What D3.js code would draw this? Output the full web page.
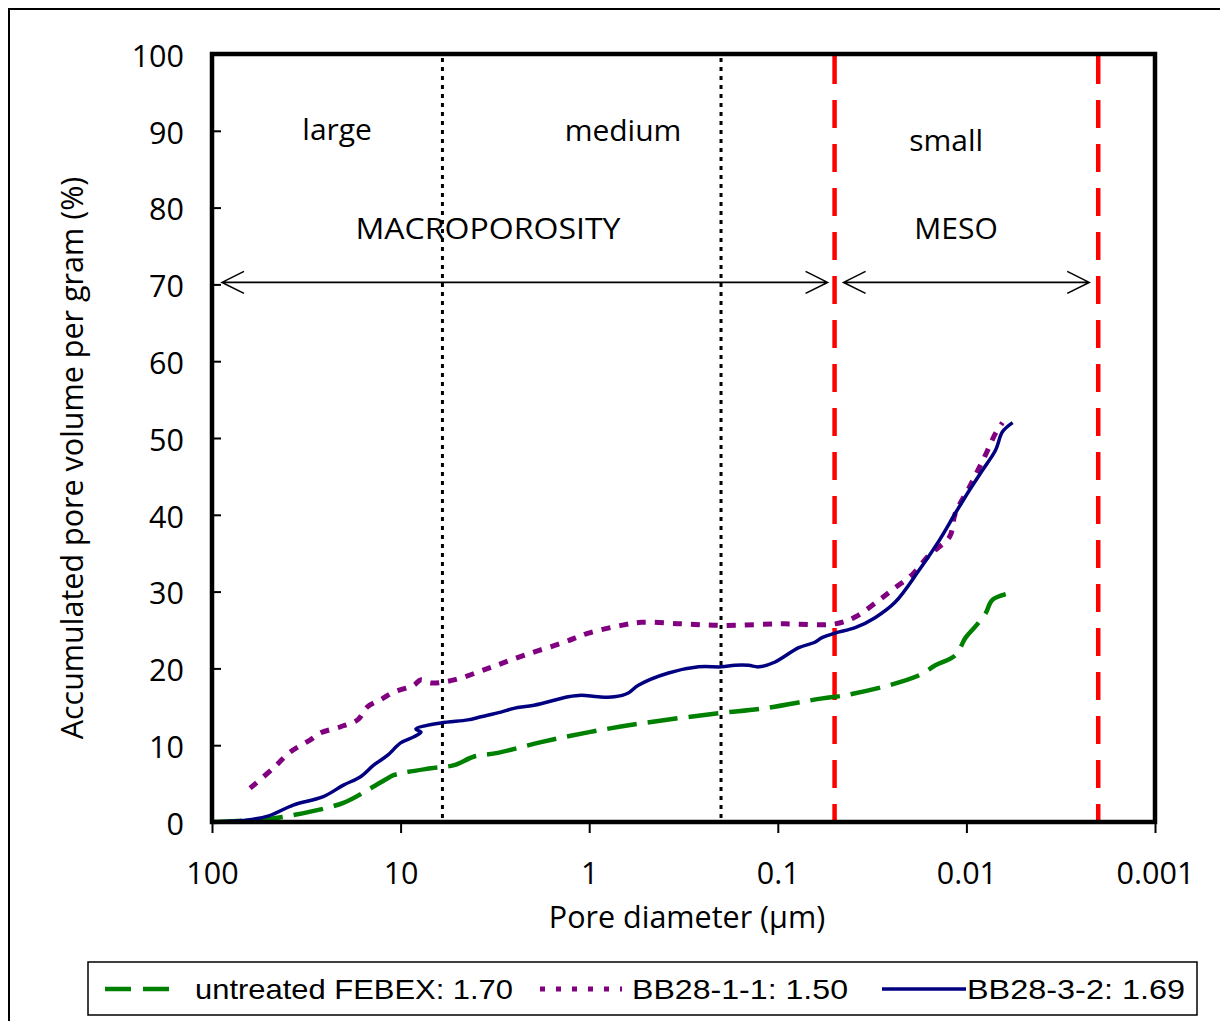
<!DOCTYPE html>
<html>
<head>
<meta charset="utf-8">
<script src="https://cdn.jsdelivr.net/npm/d3@7"></script>
<style>
  body { margin: 0; background: #fff; }
  text { font-family: "Open Sans", "Noto Sans", sans-serif; fill: #000; }
</style>
</head>
<body>
<svg id="chart" width="1220" height="1021"></svg>
<script>
// tick labels
const xTicks = [100, 10, 1, 0.1, 0.01, 0.001];
const xTickLabels = ['100', '10', '1', '0.1', '0.01', '0.001'];
const yTicks = [0, 10, 20, 30, 40, 50, 60, 70, 80, 90, 100];

// pore size limits (µm)
const dottedLimits = [6, 0.2];
const redLimits = [0.05, 0.002];

// series: pore diameter (µm) and accumulated volume (%)
const febexD = [100, 55.6, 37, 20.1, 14.4, 11.7, 10.9, 6.9, 5.2, 4.1, 3.05, 1.8, 1.0, 0.51, 0.2, 0.126, 0.058, 0.044, 0.0257, 0.0178, 0.0146, 0.01145, 0.0101, 0.009, 0.0079, 0.0073, 0.0059];
const febexV = [0, 0.3, 0.9, 2.5, 4.4, 5.7, 6.1, 7.0, 7.4, 8.5, 9.0, 10.4, 11.7, 12.9, 14.2, 14.7, 16.1, 16.5, 17.8, 19.1, 20.4, 21.7, 24.0, 25.4, 27.2, 28.9, 29.8];

const bb11D = [62.8, 47.4, 38.5, 30.1, 26.6, 20.8, 16.9, 15.0, 12.8, 10.9, 8.53, 7.83, 6.92, 5.22, 3.44, 2.22, 1.36, 1.01, 0.676, 0.529, 0.324, 0.199, 0.0952, 0.0497, 0.0389, 0.029, 0.0239, 0.0194, 0.0157, 0.0123, 0.01145, 0.00964, 0.00853, 0.00792, 0.00701, 0.00644];
const bb11V = [4.4, 7.0, 9.1, 10.7, 11.6, 12.4, 13.3, 15.0, 15.9, 16.9, 17.8, 18.5, 18.1, 18.5, 20.0, 21.7, 23.4, 24.6, 25.6, 26.0, 25.8, 25.6, 25.8, 25.8, 26.7, 28.9, 30.5, 32.2, 34.8, 37.1, 40.2, 43.6, 46.2, 47.8, 50.6, 52.0];

const bb32D = [100, 62.8, 50, 37.1, 25.7, 20.1, 16.3, 13.9, 11.7, 10, 8.5, 7.8, 8.3, 6.13, 4.4, 3.75, 2.94, 2.51, 1.96, 1.29, 1.10, 0.896, 0.736, 0.62, 0.549, 0.38, 0.263, 0.199, 0.169, 0.143, 0.126, 0.104, 0.0774, 0.0636, 0.0583, 0.0497, 0.0389, 0.0305, 0.0239, 0.0178, 0.0139, 0.01145, 0.00964, 0.00822, 0.00701, 0.00644, 0.00569];
const bb32V = [0, 0.3, 0.8, 2.2, 3.3, 4.8, 5.9, 7.4, 8.7, 10.3, 11.1, 11.7, 12.1, 12.9, 13.3, 13.7, 14.3, 14.8, 15.2, 16.3, 16.5, 16.3, 16.3, 16.8, 17.8, 19.4, 20.2, 20.2, 20.4, 20.4, 20.2, 20.8, 22.7, 23.4, 24.0, 24.6, 25.3, 26.6, 28.6, 32.8, 36.7, 40.2, 43.2, 45.8, 48.4, 50.8, 52.0];

const seriesNames = ['untreated FEBEX: 1.70', 'BB28-1-1: 1.50', 'BB28-3-2: 1.69'];

const svg = d3.select('#chart');

// 外框
svg.append('rect')
    .attr('x', 9).attr('y', 9)
    .attr('width', 1400).attr('height', 1200)
    .attr('fill', 'none')
    .attr('stroke', '#000')
    .attr('stroke-width', 2);

const x = d3.scaleLog().domain([100, 0.001]).range([212, 1155]);
const y = d3.scaleLinear().domain([0, 100]).range([822, 54]);

// x axis
const gx = svg.append('g')
    .attr('transform', 'translate(0,' + y(0) + ')')
    .call(d3.axisBottom(x)
        .tickValues(xTicks)
        .tickFormat((d, i) => xTickLabels[i])
        .tickSize(11)
        .tickPadding(29));
gx.select('.domain').remove();
gx.selectAll('line').attr('stroke', '#000').attr('stroke-width', 2);
gx.selectAll('text').style('font-size', '30.5px').attr('fill', '#000');

// y axis, ticks inward
const gy = svg.append('g')
    .attr('transform', 'translate(' + x(100) + ',0)')
    .call(d3.axisLeft(y)
        .tickValues(yTicks)
        .tickSize(-9)
        .tickPadding(28));
gy.select('.domain').remove();
gy.selectAll('line').attr('stroke', '#000').attr('stroke-width', 2);
gy.selectAll('text').style('font-size', '30.5px').attr('dy', '0.4em').attr('fill', '#000');

// pore size limits
svg.selectAll('.dotLimit')
    .data(dottedLimits)
    .enter()
    .append('line')
    .attr('x1', d => x(d)).attr('x2', d => x(d))
    .attr('y1', y(100) + 4).attr('y2', y(0))
    .attr('stroke', '#000')
    .attr('stroke-width', 3)
    .attr('stroke-dasharray', '4,5');

svg.selectAll('.redLimit')
    .data(redLimits)
    .enter()
    .append('line')
    .attr('x1', d => x(d)).attr('x2', d => x(d))
    .attr('y1', y(100) + 2).attr('y2', y(0))
    .attr('stroke', '#ff0000')
    .attr('stroke-width', 4.5)
    .attr('stroke-dasharray', '28,16');

// 箭头
function arrow(x1, x2, yy) {
    let p = d3.path();
    p.moveTo(x1, yy); p.lineTo(x2, yy);
    p.moveTo(x1 + 22, yy - 11); p.lineTo(x1, yy); p.lineTo(x1 + 22, yy + 11);
    p.moveTo(x2 - 22, yy - 11); p.lineTo(x2, yy); p.lineTo(x2 - 22, yy + 11);
    svg.append('path')
        .attr('d', p.toString())
        .attr('fill', 'none')
        .attr('stroke', '#000')
        .attr('stroke-width', 1.6);
}
arrow(x(100) + 10, x(redLimits[0]) - 7, y(70) - 2);
arrow(x(redLimits[0]) + 9, x(redLimits[1]) - 9, y(70) - 2);

// region labels
const labels = [
    {t: 'large', d: 21.7, v: 88.8, w: null},
    {t: 'medium', d: 0.662, v: 88.7, w: null},
    {t: 'small', d: 0.0128, v: 87.4, w: null},
    {t: 'MACROPOROSITY', d: 3.44, v: 75.9, w: 265},
    {t: 'MESO', d: 0.01135, v: 75.9, w: null}
];
svg.selectAll('.regionLabel')
    .data(labels)
    .enter()
    .append('text')
    .attr('x', d => x(d.d))
    .attr('y', d => y(d.v))
    .attr('text-anchor', 'middle')
    .attr('textLength', d => d.w)
    .attr('lengthAdjust', 'spacingAndGlyphs')
    .style('font-size', '30px')
    .text(d => d.t);

// curves
const line = d3.line()
    .x(d => x(d[0]))
    .y(d => y(d[1]))
    .curve(d3.curveCatmullRom.alpha(0.5));

const series = [
    {d: febexD, v: febexV, color: '#008000', width: 4.5, dash: '30,11'},
    {d: bb11D, v: bb11V, color: '#800080', width: 5, dash: '9,9'},
    {d: bb32D, v: bb32V, color: '#000080', width: 3.5, dash: null}
];
for (let s of series) {
    svg.append('path')
        .datum(s.d.map((dd, i) => [dd, s.v[i]]))
        .attr('d', line)
        .attr('fill', 'none')
        .attr('stroke', s.color)
        .attr('stroke-width', s.width)
        .attr('stroke-dasharray', s.dash)
        .attr('stroke-linejoin', 'round');
}

// plot frame
svg.append('rect')
    .attr('x', x(100)).attr('y', y(100))
    .attr('width', x(0.001) - x(100))
    .attr('height', y(0) - y(100))
    .attr('fill', 'none')
    .attr('stroke', '#000')
    .attr('stroke-width', 4.5);

// axis titles
svg.append('text')
    .attr('x', 687)
    .attr('y', 928)
    .attr('text-anchor', 'middle')
    .style('font-size', '30.5px')
    .text('Pore diameter (µm)');

svg.append('text')
    .attr('transform', 'translate(83,' + 458 + ') rotate(-90)')
    .attr('text-anchor', 'middle')
    .style('font-size', '30.5px')
    .text('Accumulated pore volume per gram (%)');

// legend
const legend = svg.append('g');
legend.append('rect')
    .attr('x', 88).attr('y', 962)
    .attr('width', 1109).attr('height', 53)
    .attr('fill', '#fff')
    .attr('stroke', '#000')
    .attr('stroke-width', 1.5);
const legItems = [
    {x1: 105, x2: 180, tx: 195, tw: 318},
    {x1: 540, x2: 622, tx: 632, tw: 216},
    {x1: 882, x2: 966, tx: 967, tw: 218}
];
const legDash = ['26,12', '5,11', null];
legItems.forEach((it, i) => {
    legend.append('line')
        .attr('x1', it.x1).attr('x2', it.x2)
        .attr('y1', 989).attr('y2', 989)
        .attr('stroke', series[i].color)
        .attr('stroke-width', series[i].width)
        .attr('stroke-dasharray', legDash[i]);
    legend.append('text')
        .attr('x', it.tx).attr('y', 999)
        .attr('textLength', it.tw)
        .attr('lengthAdjust', 'spacingAndGlyphs')
        .style('font-size', '28px')
        .style('font-family', '"Liberation Sans Narrow", "Liberation Sans", sans-serif')
        .text(seriesNames[i]);
});
</script>
</body>
</html>
